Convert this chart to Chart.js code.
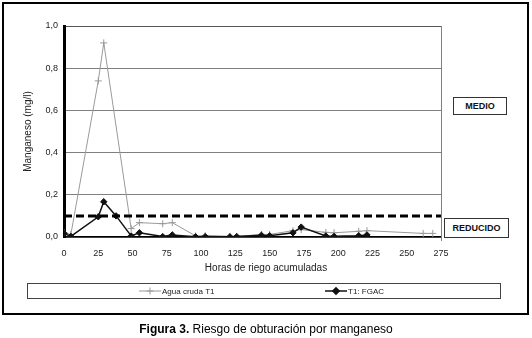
<!DOCTYPE html>
<html>
<head>
<meta charset="utf-8">
<script src="https://cdn.jsdelivr.net/npm/chart.js@4.4.1/dist/chart.umd.min.js"></script>
<style>
  body { margin: 0; background: #fff; font-family: "Liberation Sans", Arial, sans-serif; }
  #wrap { position: relative; width: 532px; height: 338px; }
  #marco { position: absolute; left: 2px; top: 2px; width: 527px; height: 313px; box-sizing: border-box; border: 2px solid #000; }
  #grafico { position: absolute; left: 0; top: 0; }
  .nivel { position: absolute; box-sizing: border-box; border: 1px solid #333; font-weight: bold; font-size: 9px; text-align: center; color: #111; background: #fff; }
  #medio { left: 453px; top: 97px; width: 54px; height: 18px; line-height: 16px; }
  #reducido { left: 444px; top: 218px; width: 65px; height: 20px; line-height: 18px; }
  #pie { position: absolute; left: 0; width: 532px; top: 322px; text-align: center; font-size: 12px; line-height: 14px; color: #000; }
</style>
</head>
<body>
<div id="wrap">
  <div id="marco"></div>
  <canvas id="grafico" width="532" height="338"></canvas>
  <div class="nivel" id="medio">MEDIO</div>
  <div class="nivel" id="reducido">REDUCIDO</div>
  <div id="pie"><b>Figura 3.</b> Riesgo de obturación por manganeso</div>
</div>
<script>
// Agua cruda T1
const horasAgua = [0, 5, 25, 29, 49, 55, 72, 79, 96, 103, 121, 126, 144, 150, 167, 173, 191, 197, 215, 221, 262, 269];
const mnAgua = [0.02, 0.012, 0.74, 0.92, 0.04, 0.068, 0.063, 0.068, 0.005, 0.006, 0.003, 0.003, 0.012, 0.012, 0.03, 0.035, 0.022, 0.02, 0.027, 0.03, 0.017, 0.017];
// T1: FGAC
const horasFgac = [0, 5, 25, 29, 38, 49, 55, 72, 79, 96, 103, 121, 126, 144, 150, 167, 173, 191, 197, 215, 221];
const mnFgac = [0.017, 0.003, 0.096, 0.167, 0.1, 0.005, 0.02, 0.002, 0.01, 0.001, 0.002, 0.001, 0.002, 0.008, 0.006, 0.02, 0.047, 0.005, 0.003, 0.006, 0.01];
// limite riesgo reducido
const limiteHoras = [0, 275];
const limiteReducido = [0.1, 0.1];

const toPoints = (xs, ys) => xs.map((x, i) => ({ x, y: ys[i] }));

const series = [
  { label: "Agua cruda T1", data: toPoints(horasAgua, mnAgua), color: "#9a9a9a", pointStyle: "cross", radius: 3.5, width: 1, order: 2 },
  { label: "T1: FGAC", data: toPoints(horasFgac, mnFgac), color: "#111", pointStyle: "rectRot", radius: 3.2, width: 1.5, order: 1 },
];

const marcoPlugin = {
  id: "marco",
  afterDraw(chart) {
    const { ctx, chartArea: a } = chart;
    ctx.save();
    // borde derecho del area
    ctx.strokeStyle = "#808080";
    ctx.lineWidth = 1;
    ctx.beginPath();
    ctx.moveTo(Math.round(a.right) + 0.5, a.top);
    ctx.lineTo(Math.round(a.right) + 0.5, a.bottom + 4);
    ctx.stroke();

    ctx.fillStyle = "#222";
    ctx.font = '10px "Liberation Sans", Arial, sans-serif';
    ctx.textAlign = "center";
    ctx.textBaseline = "middle";
    ctx.fillText("Horas de riego acumuladas", 266, 268);

    // leyenda
    ctx.strokeStyle = "#444";
    ctx.strokeRect(27.5, 283.5, 473, 15);
    const spots = [139, 325];
    ctx.font = '8px "Liberation Sans", Arial, sans-serif';
    ctx.textAlign = "left";
    series.forEach((s, i) => {
      const x0 = spots[i], y = 291;
      ctx.strokeStyle = s.color;
      ctx.lineWidth = s.width;
      ctx.beginPath();
      ctx.moveTo(x0, y);
      ctx.lineTo(x0 + 22, y);
      ctx.stroke();
      ctx.fillStyle = s.color;
      Chart.helpers.drawPoint(ctx, { pointStyle: s.pointStyle, radius: s.radius, borderWidth: 1 }, x0 + 11, y);
      ctx.fillStyle = "#222";
      ctx.fillText(s.label, x0 + 23, y + 0.5);
    });
    ctx.restore();
  },
};

Chart.defaults.font.family = '"Liberation Sans", Arial, sans-serif';

new Chart(document.getElementById("grafico"), {
  type: "scatter",
  data: {
    datasets: [
      {
        label: "Reducido",
        data: toPoints(limiteHoras, limiteReducido),
        showLine: true,
        borderColor: "#000",
        borderWidth: 3,
        borderDash: [8, 4],
        pointRadius: 0,
        order: 0,
      },
      ...series.map((s) => ({
        label: s.label,
        data: s.data,
        showLine: true,
        borderColor: s.color,
        backgroundColor: s.color,
        borderWidth: s.width,
        pointStyle: s.pointStyle,
        pointRadius: s.radius,
        pointBorderWidth: 1,
        pointBorderColor: s.color,
        pointBackgroundColor: s.color,
        order: s.order,
      })),
    ],
  },
  options: {
    responsive: false,
    animation: false,
    layout: { padding: { left: 22, top: 26, right: 91, bottom: 71 } },
    plugins: { legend: { display: false }, tooltip: { enabled: false } },
    scales: {
      x: {
        type: "linear",
        min: 0,
        max: 275,
        ticks: { stepSize: 25, color: "#222", font: { size: 9 }, padding: 3 },
        grid: { display: false },
        border: { color: "#000", width: 1.5 },
        afterFit: (s) => { s.height = 30; },
      },
      y: {
        min: 0,
        max: 1,
        ticks: {
          stepSize: 0.2,
          color: "#222",
          font: { size: 9 },
          padding: 6,
          callback: (v) => v.toFixed(1).replace(".", ","),
        },
        grid: {
          drawTicks: false,
          color: (c) => (c.tick && c.tick.value === 1 ? "#555" : "#808080"),
        },
        border: { color: "#000", width: 3 },
        title: { display: true, text: "Manganeso (mg/l)", color: "#222", font: { size: 10 }, padding: { top: 0, bottom: 0 } },
        afterFit: (s) => { s.width = 42; },
      },
    },
  },
  plugins: [marcoPlugin],
});
</script>
</body>
</html>
